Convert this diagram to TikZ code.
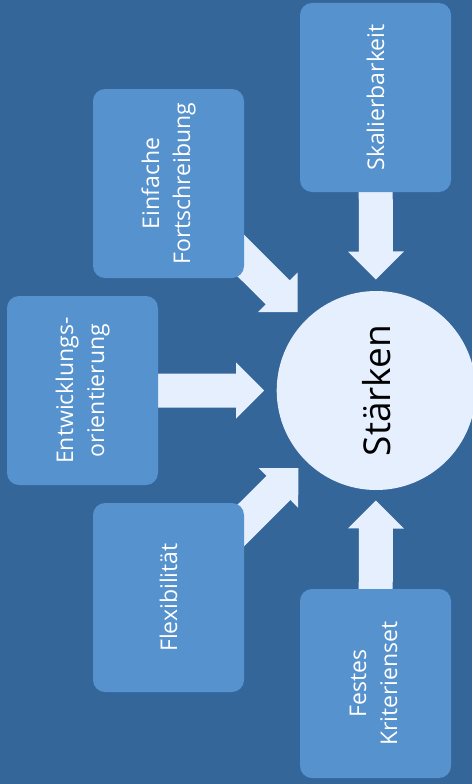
\documentclass[tikz,border=0pt]{standalone}
\usepackage{fontspec}
\setmainfont{Open Sans}
\usetikzlibrary{calc}
\definecolor{bgblue}{RGB}{52,102,153}
\definecolor{boxblue}{RGB}{86,146,206}
\definecolor{lite}{RGB}{230,239,253}
\pgfdeclarelayer{back}
\pgfdeclarelayer{arrowlayer}
\pgfsetlayers{back,arrowlayer,main}
% fat block arrow from #1 to tip #2, #3 = unique name prefix
\newcommand\fatarrow[3]{%
  \coordinate (#3hb) at ($(#2)!28pt!(#1)$);
  \fill[arrowfill] ($(#1)!17pt!90:(#2)$) -- ($(#3hb)!17pt!90:(#2)$)
    -- ($(#3hb)!28pt!90:(#2)$) -- (#2) -- ($(#3hb)!28pt!-90:(#2)$)
    -- ($(#3hb)!17pt!-90:(#2)$) -- ($(#1)!17pt!-90:(#2)$) -- cycle;
}
\begin{document}
\begin{tikzpicture}[x=1pt,y=-1pt,
  box/.style={draw=none, fill=boxblue, rounded corners=12pt,
    minimum width=151pt, minimum height=189pt, inner sep=0pt,
    text=white, font=\fontsize{23}{31}\selectfont},
  hub/.style={circle, fill=lite, minimum size=199pt, inner sep=0pt,
    text=black, font=\fontsize{37}{44}\selectfont},
  arrowfill/.style={fill=lite}]
\useasboundingbox (0,0) rectangle (472,784);
\begin{pgfonlayer}{back}
  \fill[bgblue] (0,0) rectangle (472,784);
\end{pgfonlayer}

\node[hub] (st) at (376.2,390.5) {\rotatebox{90}{Stärken}};

\node[box] (sk) at (375.5,97.5) {\rotatebox{90}{Skalierbarkeit}};
\node[box] (ef) at (168.5,183.5) {\rotatebox{90}{\begin{tabular}{@{}c@{}}Einfache\\Fortschreibung\end{tabular}}};
\node[box] (en) at (82.5,390.5) {\rotatebox{90}{\begin{tabular}{@{}c@{}}Entwicklungs-\\orientierung\end{tabular}}};
\node[box] (fl) at (168.5,597.5) {\rotatebox{90}{Flexibilität}};
\node[box] (fk) at (375.5,683.5) {\rotatebox{90}{\begin{tabular}{@{}c@{}}Festes\\Kriterienset\end{tabular}}};

\coordinate (tsk) at ($(st.center)!111pt!(sk.center)$);
\coordinate (tef) at ($(st.center)!111pt!(ef.center)$);
\coordinate (ten) at ($(st.center)!112pt!(en.center)$);
\coordinate (tfl) at ($(st.center)!110pt!(fl.center)$);
\coordinate (tfk) at ($(st.center)!110pt!(fk.center)$);

\begin{pgfonlayer}{arrowlayer}
  \fatarrow{sk.center}{tsk}{a}
  \fatarrow{ef.center}{tef}{b}
  \fatarrow{en.center}{ten}{c}
  \fatarrow{fl.center}{tfl}{d}
  \fatarrow{fk.center}{tfk}{e}
\end{pgfonlayer}
\end{tikzpicture}
\end{document}
